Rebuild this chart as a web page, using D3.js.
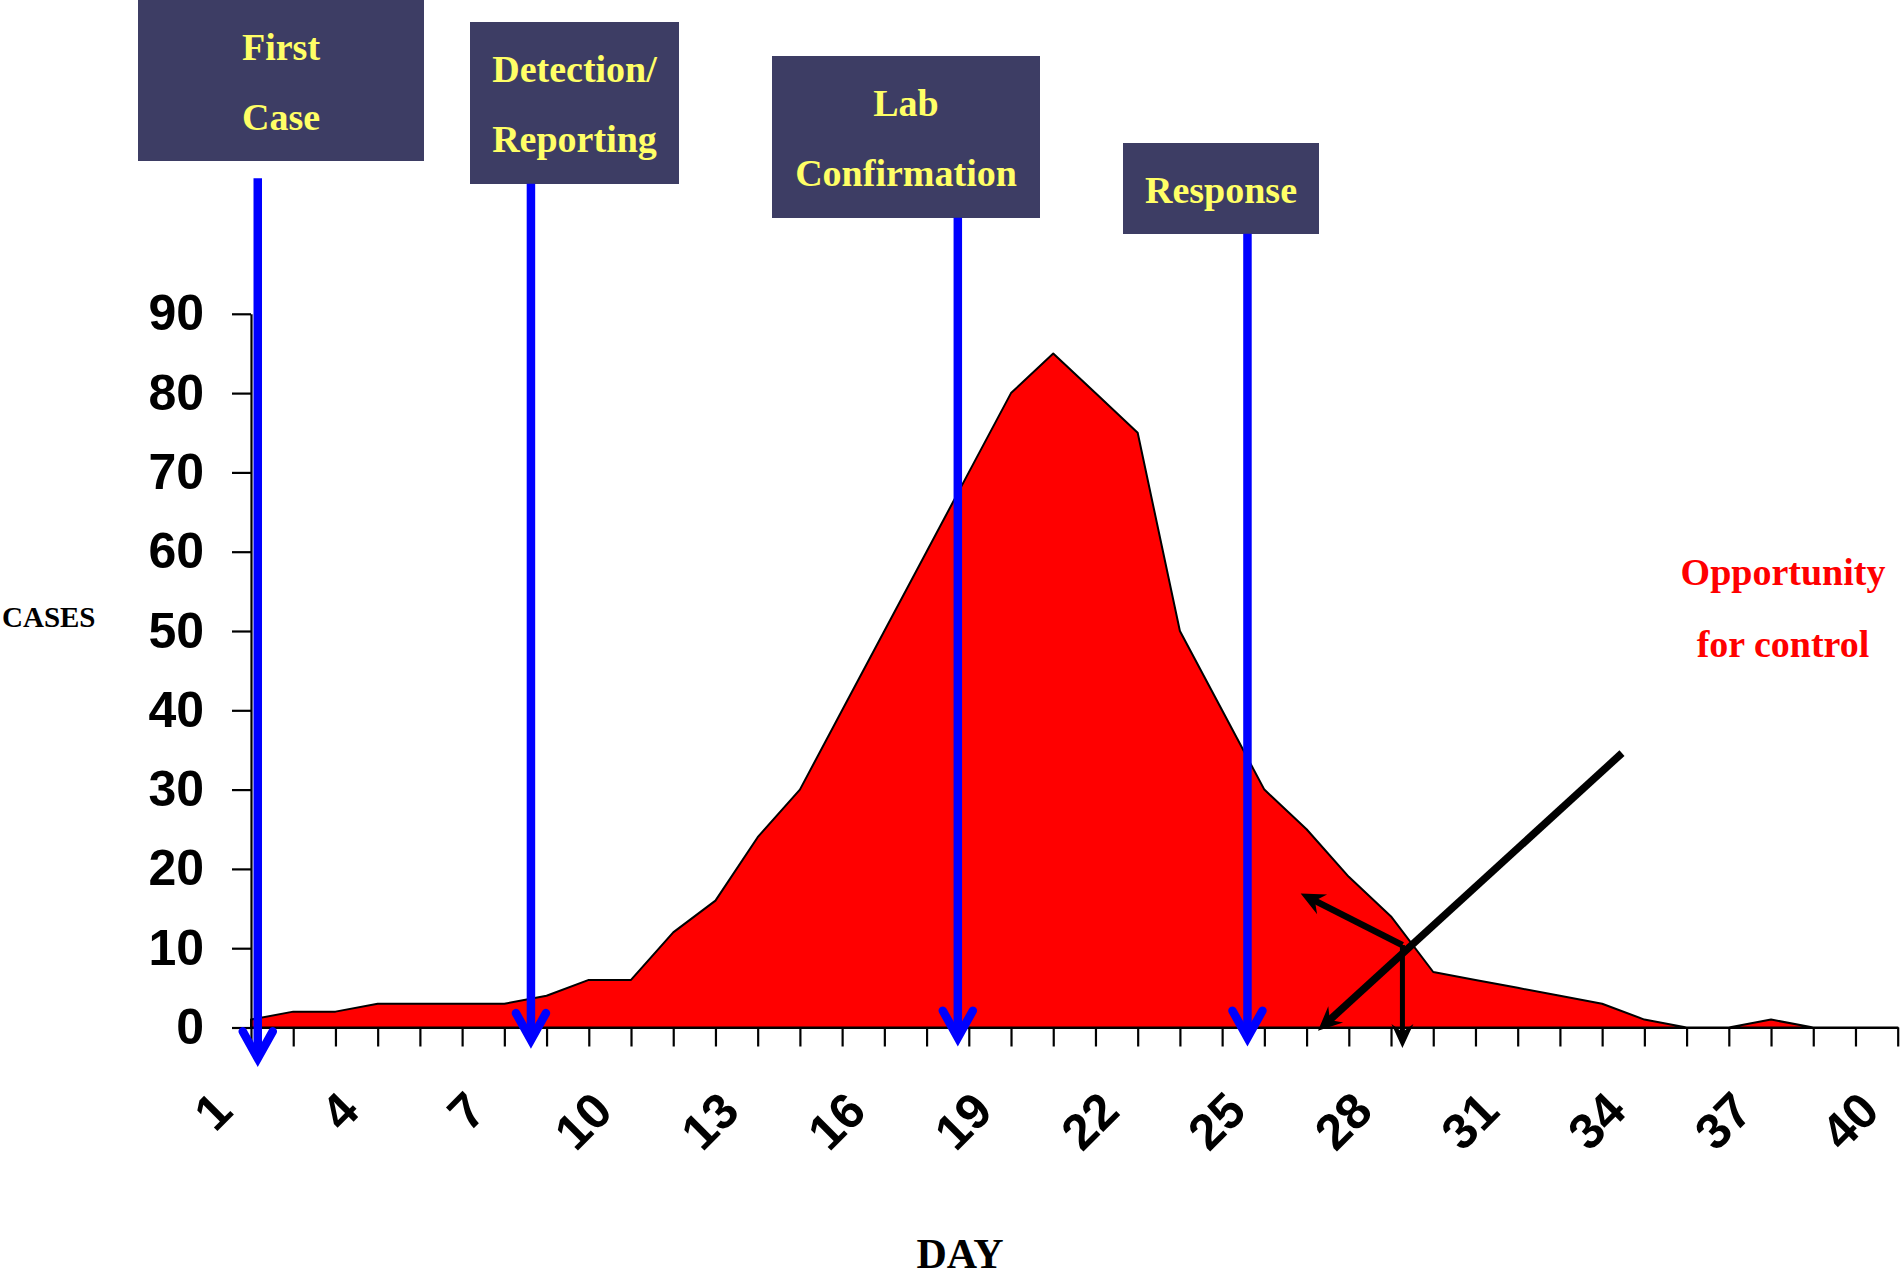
<!DOCTYPE html>
<html>
<head>
<meta charset="utf-8">
<script src="https://cdn.jsdelivr.net/npm/d3@7"></script>
<style>
  body { margin: 0; background: #fff; }
</style>
</head>
<body>
<div id="epi-curve"></div>
<script>
// daily cases, one value per day
var days = [1,2,3,4,5,6,7,8,9,10,11,12,13,14,15,16,17,18,19,20,
            21,22,23,24,25,26,27,28,29,30,31,32,33,34,35,36,37,38,39,40];
var cases = [1,2,2,3,3,3,3,4,6,6,12,16,24,30,40,50,60,70,80,85,
             80,75,50,40,30,25,19,14,7,6,5,4,3,1,0,0,1,0,0,0];
var dayLabels = [1,4,7,10,13,16,19,22,25,28,31,34,37,40];
var caseTicks = [0,10,20,30,40,50,60,70,80,90];

// milestones (day of arrow, top and tip of arrow in case units)
var eventNames = [["First","Case"], ["Detection/","Reporting"], ["Lab","Confirmation"], ["Response"]];
var eventDays = [1.16, 7.63, 17.74, 24.6];
var eventTops = [107.1, 106.4, 102.1, 100.1];
var eventTips = [-4.9, -2.6, -2.3, -2.3];

// the "opportunity for control" arrows, [day, cases]
var controlFrom = [[33.47, 34.6], [28.27, 10.4], [28.27, 10.4]];
var controlTo   = [[26.27, -0.4], [25.86, 16.9], [28.27, -2.6]];

// layout of the label boxes (px)
var boxLayout = [
  {x: 138, y: -2, w: 286, h: 163},
  {x: 470, y: 22, w: 209, h: 162},
  {x: 772, y: 56, w: 268, h: 162},
  {x: 1123, y: 143, w: 196, h: 91}
];
var controlWidths = [7.5, 6.5, 5];

var width = 1900, height = 1279;

var svg = d3.select("#epi-curve")
  .append("svg")
    .attr("width", width)
    .attr("height", height);

var x = d3.scaleLinear()
    .domain([1, 40])
    .range([251, 1897.7]);

var y = d3.scaleLinear()
    .domain([0, 90])
    .range([1027.5, 313.8]);

// red epidemic curve
var area = d3.area()
    .x(function(d, i) { return x(days[i]); })
    .y0(y(0))
    .y1(function(d) { return y(d); });

svg.append("path")
    .datum(cases)
    .attr("d", area)
    .attr("fill", "#ff0000")
    .attr("stroke", "#000")
    .attr("stroke-width", 2)
    .attr("stroke-linejoin", "round");

// axes
var xAxis = svg.append("g")
    .attr("transform", "translate(0," + y(0) + ")")
    .call(d3.axisBottom(x).tickValues(days).tickSize(19).tickSizeOuter(0).tickFormat(""));

var yAxis = svg.append("g")
    .attr("transform", "translate(" + x(1) + ",0)")
    .call(d3.axisLeft(y).tickValues(caseTicks).tickSize(19).tickSizeOuter(0).tickPadding(28));

svg.selectAll(".domain, .tick line")
    .attr("stroke", "#000")
    .attr("stroke-width", 2.2);

yAxis.selectAll("text")
    .style("font-family", "'Liberation Sans', Arial, sans-serif")
    .style("font-weight", "bold")
    .style("font-size", "50px")
    .attr("fill", "#000");

svg.append("g")
  .selectAll("text")
  .data(dayLabels)
  .enter().append("text")
    .attr("transform", function(d) { return "translate(" + (x(d) - 16) + "," + (y(0) + 86) + ") rotate(-45)"; })
    .attr("text-anchor", "end")
    .style("font-family", "'Liberation Sans', Arial, sans-serif")
    .style("font-weight", "bold")
    .style("font-size", "50px")
    .text(function(d) { return d; });

// axis titles
svg.append("text")
    .attr("x", 2)
    .attr("y", 627)
    .style("font-family", "'Liberation Serif', 'Times New Roman', serif")
    .style("font-weight", "bold")
    .style("font-size", "29px")
    .text("CASES");

svg.append("text")
    .attr("x", 960)
    .attr("y", 1268)
    .attr("text-anchor", "middle")
    .style("font-family", "'Liberation Serif', 'Times New Roman', serif")
    .style("font-weight", "bold")
    .style("font-size", "42px")
    .text("DAY");

// milestone boxes
var boxes = svg.append("g")
  .selectAll("g")
  .data(eventNames)
  .enter().append("g");

boxes.append("rect")
    .attr("x", function(d, i) { return boxLayout[i].x; })
    .attr("y", function(d, i) { return boxLayout[i].y; })
    .attr("width", function(d, i) { return boxLayout[i].w; })
    .attr("height", function(d, i) { return boxLayout[i].h; })
    .attr("fill", "#3d3d64");

boxes.each(function(lines, i) {
  var b = boxLayout[i];
  var top = Math.max(b.y, 0);
  d3.select(this).selectAll("text")
    .data(lines)
    .enter().append("text")
      .attr("x", b.x + b.w / 2)
      .attr("y", function(d, j) { return top + 60 + j * 70; })
      .attr("text-anchor", "middle")
      .attr("fill", "#ffff66")
      .style("font-family", "'Liberation Serif', 'Times New Roman', serif")
      .style("font-weight", "bold")
      .style("font-size", "38px")
      .text(function(d) { return d; });
});

// blue milestone arrows
eventDays.forEach(function(d, i) {
  var ax = x(d), top = y(eventTops[i]), tip = y(eventTips[i]);
  var g = svg.append("g")
      .attr("stroke", "#0000ff")
      .attr("stroke-width", 8.5)
      .attr("fill", "none");
  g.append("line")
      .attr("x1", ax).attr("x2", ax)
      .attr("y1", top).attr("y2", tip - 8);
  g.append("path")
      .attr("d", "M" + (ax - 15) + "," + (tip - 35) + "L" + ax + "," + (tip - 8) + "L" + (ax + 15) + "," + (tip - 35))
      .attr("stroke-linejoin", "miter")
      .attr("stroke-miterlimit", 10)
      .attr("stroke-linecap", "round");
});

// black control arrows
controlFrom.forEach(function(f, i) {
  var x1 = x(f[0]), y1 = y(f[1]);
  var x2 = x(controlTo[i][0]), y2 = y(controlTo[i][1]);
  var a = Math.atan2(y2 - y1, x2 - x1);
  var ux = Math.cos(a), uy = Math.sin(a);
  svg.append("line")
      .attr("x1", x1).attr("y1", y1)
      .attr("x2", x2 - ux * 14).attr("y2", y2 - uy * 14)
      .attr("stroke", "#000")
      .attr("stroke-width", controlWidths[i]);
  var pts = [
    [x2, y2],
    [x2 - ux * 24 - uy * 11, y2 - uy * 24 + ux * 11],
    [x2 - ux * 16, y2 - uy * 16],
    [x2 - ux * 24 + uy * 11, y2 - uy * 24 - ux * 11]
  ];
  svg.append("path")
      .attr("d", "M" + pts.join("L") + "Z")
      .attr("fill", "#000");
});

// annotation text
svg.append("g")
  .selectAll("text")
  .data(["Opportunity", "for control"])
  .enter().append("text")
    .attr("x", 1783)
    .attr("y", function(d, i) { return 585 + i * 72; })
    .attr("text-anchor", "middle")
    .attr("fill", "#ff0000")
    .style("font-family", "'Liberation Serif', 'Times New Roman', serif")
    .style("font-weight", "bold")
    .style("font-size", "38px")
    .text(function(d) { return d; });
</script>
</body>
</html>
